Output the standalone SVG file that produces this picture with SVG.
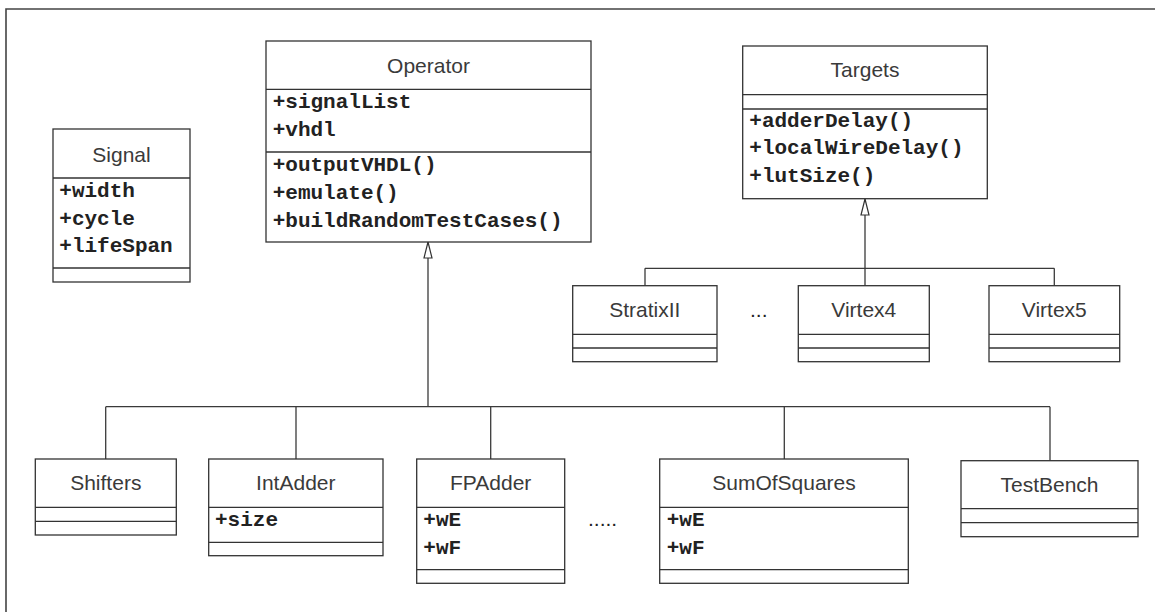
<svg xmlns="http://www.w3.org/2000/svg" width="1155" height="612" viewBox="0 0 1155 612">
  <style>
    .box { fill: #ffffff; stroke: #333333; stroke-width: 1.3; }
    .sep { stroke: #333333; stroke-width: 1.3; fill: none; }
    .title { font-family: "Liberation Sans", Arial, sans-serif; font-size: 21px; fill: #3a3a3a; text-anchor: middle; }
    .attr { font-family: "Liberation Mono", "Courier New", monospace; font-size: 21px; font-weight: bold; fill: #222222; }
    .conn { stroke: #3a3a3a; stroke-width: 1.3; fill: none; }
    .frame { stroke: #444444; stroke-width: 1.6; fill: none; }
    .dots { font-family: "Liberation Sans", Arial, sans-serif; font-size: 21px; fill: #222222; }
  </style>
  <defs>
    <marker id="inherit" viewBox="0 0 16 8" markerUnits="userSpaceOnUse" markerWidth="16" markerHeight="8" refX="16" refY="4" orient="auto" overflow="visible">
      <path d="M0,0 L16,4 L0,8 Z" fill="#ffffff" stroke="#333333" stroke-width="1.2"/>
    </marker>
  </defs>
  <rect x="0" y="0" width="1155" height="612" fill="#ffffff"/>
  <path class="frame" d="M6,612 V9 H1155"/>

  <g id="connectors">
    <line class="conn" x1="428" y1="406.7" x2="428" y2="242" marker-end="url(#inherit)"/>
    <line class="conn" x1="105.7" y1="406.7" x2="1050" y2="406.7"/>
    <line class="conn" x1="105.7" y1="406.7" x2="105.7" y2="459"/>
    <line class="conn" x1="296" y1="406.7" x2="296" y2="459"/>
    <line class="conn" x1="490.7" y1="406.7" x2="490.7" y2="459"/>
    <line class="conn" x1="784.3" y1="406.7" x2="784.3" y2="459"/>
    <line class="conn" x1="1050" y1="406.7" x2="1050" y2="460.7"/>
    <line class="conn" x1="865" y1="285.7" x2="865" y2="199" marker-end="url(#inherit)"/>
    <line class="conn" x1="645" y1="268.3" x2="1054.3" y2="268.3"/>
    <line class="conn" x1="645" y1="268.3" x2="645" y2="285.7"/>
    <line class="conn" x1="1054.3" y1="268.3" x2="1054.3" y2="285.7"/>
  </g>

  <g id="signal">
    <rect class="box" x="53" y="129" width="137" height="153"/>
    <line class="sep" x1="53" y1="178" x2="190" y2="178"/>
    <line class="sep" x1="53" y1="268" x2="190" y2="268"/>
    <text class="title" x="121.5" y="161.5">Signal</text>
    <text class="attr" x="59.3" y="196.7">+width</text>
    <text class="attr" x="59.3" y="224.5">+cycle</text>
    <text class="attr" x="59.3" y="251.7">+lifeSpan</text>
  </g>

  <g id="operator">
    <rect class="box" x="266" y="41" width="325" height="201"/>
    <line class="sep" x1="266" y1="89.3" x2="591" y2="89.3"/>
    <line class="sep" x1="266" y1="152" x2="591" y2="152"/>
    <text class="title" x="428.5" y="73.3">Operator</text>
    <text class="attr" x="272.7" y="108.3">+signalList</text>
    <text class="attr" x="272.7" y="135.5">+vhdl</text>
    <text class="attr" x="272.7" y="171">+outputVHDL()</text>
    <text class="attr" x="272.7" y="199">+emulate()</text>
    <text class="attr" x="272.7" y="226.7">+buildRandomTestCases()</text>
  </g>

  <g id="targets">
    <rect class="box" x="742.7" y="46" width="244.6" height="152.7"/>
    <line class="sep" x1="742.7" y1="94.7" x2="987.3" y2="94.7"/>
    <line class="sep" x1="742.7" y1="109" x2="987.3" y2="109"/>
    <text class="title" x="865" y="76.7">Targets</text>
    <text class="attr" x="749.3" y="126.7">+adderDelay()</text>
    <text class="attr" x="749.3" y="154.3">+localWireDelay()</text>
    <text class="attr" x="749.3" y="182.3">+lutSize()</text>
  </g>

  <g id="stratixii">
    <rect class="box" x="572.7" y="285.7" width="144.3" height="76"/>
    <line class="sep" x1="572.7" y1="334.3" x2="717" y2="334.3"/>
    <line class="sep" x1="572.7" y1="348" x2="717" y2="348"/>
    <text class="title" x="644.8" y="316.7">StratixII</text>
  </g>

  <text id="ellipsis-targets" class="dots" x="750" y="316.7">...</text>

  <g id="virtex4">
    <rect class="box" x="798.3" y="285.7" width="131" height="76"/>
    <line class="sep" x1="798.3" y1="334.3" x2="929.3" y2="334.3"/>
    <line class="sep" x1="798.3" y1="348" x2="929.3" y2="348"/>
    <text class="title" x="863.8" y="316.7">Virtex4</text>
  </g>

  <g id="virtex5">
    <rect class="box" x="989" y="285.7" width="130.7" height="76"/>
    <line class="sep" x1="989" y1="334.3" x2="1119.7" y2="334.3"/>
    <line class="sep" x1="989" y1="348" x2="1119.7" y2="348"/>
    <text class="title" x="1054.3" y="316.7">Virtex5</text>
  </g>

  <g id="shifters">
    <rect class="box" x="35.3" y="459" width="141" height="76"/>
    <line class="sep" x1="35.3" y1="507.3" x2="176.3" y2="507.3"/>
    <line class="sep" x1="35.3" y1="521.3" x2="176.3" y2="521.3"/>
    <text class="title" x="105.8" y="490">Shifters</text>
  </g>

  <g id="intadder">
    <rect class="box" x="208.7" y="459" width="174.3" height="96.7"/>
    <line class="sep" x1="208.7" y1="507.3" x2="383" y2="507.3"/>
    <line class="sep" x1="208.7" y1="542.3" x2="383" y2="542.3"/>
    <text class="title" x="295.8" y="490">IntAdder</text>
    <text class="attr" x="215" y="525.7">+size</text>
  </g>

  <g id="fpadder">
    <rect class="box" x="416.7" y="459" width="148" height="124.3"/>
    <line class="sep" x1="416.7" y1="507.3" x2="564.7" y2="507.3"/>
    <line class="sep" x1="416.7" y1="569.7" x2="564.7" y2="569.7"/>
    <text class="title" x="490.7" y="490">FPAdder</text>
    <text class="attr" x="423.3" y="526">+wE</text>
    <text class="attr" x="423.3" y="554">+wF</text>
  </g>

  <text id="ellipsis-operators" class="dots" x="588" y="526">.....</text>

  <g id="sumofsquares">
    <rect class="box" x="659.7" y="459" width="248.6" height="124.3"/>
    <line class="sep" x1="659.7" y1="507.3" x2="908.3" y2="507.3"/>
    <line class="sep" x1="659.7" y1="569.7" x2="908.3" y2="569.7"/>
    <text class="title" x="784" y="490">SumOfSquares</text>
    <text class="attr" x="666.7" y="526">+wE</text>
    <text class="attr" x="666.7" y="554">+wF</text>
  </g>

  <g id="testbench">
    <rect class="box" x="961" y="460.7" width="177" height="76"/>
    <line class="sep" x1="961" y1="508.7" x2="1138" y2="508.7"/>
    <line class="sep" x1="961" y1="522.7" x2="1138" y2="522.7"/>
    <text class="title" x="1049.5" y="491.7">TestBench</text>
  </g>
</svg>
